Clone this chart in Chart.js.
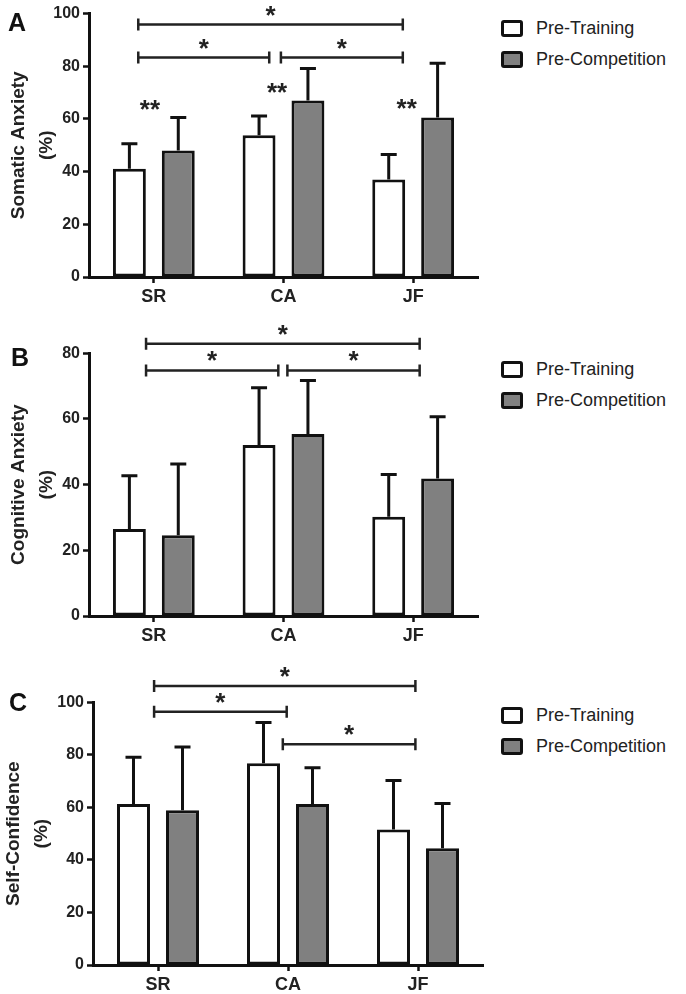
<!DOCTYPE html>
<html>
<head>
<meta charset="utf-8">
<script src="https://cdn.jsdelivr.net/npm/chart.js@4.4.1/dist/chart.umd.min.js"></script>
<style>
  body { margin: 0; background: #fff; }
  #wrap { position: relative; width: 686px; height: 994px; overflow: hidden; font-family: "Liberation Sans", Arial, sans-serif; }
  canvas { position: absolute; left: 0; }
  .chart-legend { position: absolute; left: 501px; }
  .legend-item { display: flex; align-items: center; height: 17px; margin-bottom: 14px; font-size: 18px; color: #222; white-space: nowrap; }
  .legend-color { box-sizing: border-box; width: 22px; height: 17px; border: 3px solid #111; border-radius: 3px; margin-right: 13px; }
</style>
</head>
<body>
<div id="wrap">
  <canvas id="chartA" width="490" height="318" style="top:0px"></canvas>
  <canvas id="chartB" width="490" height="332" style="top:318px"></canvas>
  <canvas id="chartC" width="490" height="354" style="top:640px"></canvas>
  <div class="chart-legend" style="top:20px"></div>
  <div class="chart-legend" style="top:361px"></div>
  <div class="chart-legend" style="top:707px"></div>
</div>
<script>
const categories = ["SR", "CA", "JF"];
const seriesNames = ["Pre-Training", "Pre-Competition"];

// means and SD (upper error bar only)
const somaticPre = [41.1, 53.8, 37.0];
const somaticPreSd = [9.5, 7.3, 9.5];
const somaticComp = [48.0, 67.0, 60.5];
const somaticCompSd = [12.5, 12.1, 20.6];

const cognitivePre = [26.5, 52.1, 30.2];
const cognitivePreSd = [16.2, 17.4, 12.9];
const cognitiveComp = [24.6, 55.4, 41.9];
const cognitiveCompSd = [21.7, 16.3, 18.8];

const confidencePre = [61.3, 76.8, 51.6];
const confidencePreSd = [17.8, 15.5, 18.6];
const confidenceComp = [58.9, 61.3, 44.4];
const confidenceCompSd = [24.1, 13.8, 17.1];

// significance brackets: [from category, to category, value, label]
const bracketsA = [[-0.12, 1.92, 95.8, "*"], [-0.12, 0.89, 83.3, "*"], [0.98, 1.92, 83.3, "*"]];
const bracketsB = [[-0.06, 2.05, 82.9, "*"], [-0.06, 0.96, 74.8, "*"], [1.03, 2.05, 74.8, "*"]];
const bracketsC = [[-0.03, 1.98, 106.2, "*"], [-0.03, 0.99, 96.4, "*"], [0.96, 1.98, 84.0, "*"]];
// single markers: [category, value, label]
const markersA = [[-0.03, 65.7, "**"], [0.95, 72.0, "**"], [1.95, 65.9, "**"]];

const yTitles = [["Somatic Anxiety", "(%)"], ["Cognitive Anxiety", "(%)"], ["Self-Confidence", "(%)"]];
const yMax = [100, 80, 100];
const panelLetters = ["A", "B", "C"];

const FONT = "'Liberation Sans', Arial, sans-serif";
const INK = "#111";

const sigPlugin = {
  id: "sig",
  afterDatasetsDraw(chart, args, opts) {
    const ctx = chart.ctx;
    const x = chart.scales.x, y = chart.scales.y;
    ctx.save();
    // error bars
    chart.data.datasets.forEach((ds, di) => {
      const meta = chart.getDatasetMeta(di);
      meta.data.forEach((bar, i) => {
        const top = y.getPixelForValue(ds.data[i]);
        const errTop = y.getPixelForValue(ds.data[i] + ds.sd[i]);
        ctx.strokeStyle = INK;
        ctx.lineWidth = 3;
        ctx.beginPath();
        ctx.moveTo(bar.x, top);
        ctx.lineTo(bar.x, errTop);
        ctx.moveTo(bar.x - 8, errTop);
        ctx.lineTo(bar.x + 8, errTop);
        ctx.stroke();
      });
    });
    // brackets
    ctx.fillStyle = "#222";
    ctx.textAlign = "center";
    ctx.textBaseline = "alphabetic";
    ctx.font = "bold 26px " + FONT;
    (opts.brackets || []).forEach(([a, b, v, label]) => {
      const x1 = x.getPixelForValue(a), x2 = x.getPixelForValue(b);
      const yy = y.getPixelForValue(v);
      ctx.strokeStyle = "#222";
      ctx.lineWidth = 2.5;
      ctx.beginPath();
      ctx.moveTo(x1, yy); ctx.lineTo(x2, yy);
      ctx.moveTo(x1, yy - 6); ctx.lineTo(x1, yy + 6);
      ctx.moveTo(x2, yy - 6); ctx.lineTo(x2, yy + 6);
      ctx.stroke();
      ctx.fillText(label, (x1 + x2) / 2, yy - 1);
    });
    (opts.markers || []).forEach(([c, v, label]) => {
      ctx.fillText(label, x.getPixelForValue(c), y.getPixelForValue(v) + 14);
    });
    // panel letter
    ctx.font = "bold 25px " + FONT;
    ctx.fillStyle = INK;
    ctx.textAlign = "center";
    ctx.textBaseline = "middle";
    ctx.fillText(opts.letter, opts.letterX, opts.letterY);
    ctx.restore();
  }
};

function makePanel(id, idx, pre, preSd, comp, compSd, geom, brackets, markers) {
  const canvas = document.getElementById(id);
  return new Chart(canvas.getContext("2d"), {
    type: "bar",
    data: {
      labels: categories,
      datasets: [
        { label: seriesNames[0], data: pre, sd: preSd, backgroundColor: "#ffffff" },
        { label: seriesNames[1], data: comp, sd: compSd, backgroundColor: "#808080" }
      ]
    },
    options: {
      responsive: false,
      animation: false,
      layout: { padding: { top: geom.top, right: canvas.width - geom.right, left: 0, bottom: 0 } },
      datasets: {
        bar: {
          borderColor: INK,
          borderWidth: 3,
          borderSkipped: false,
          categoryPercentage: 0.754,
          barPercentage: 0.673
        }
      },
      plugins: {
        legend: { display: false },
        tooltip: { enabled: false },
        sig: { brackets: brackets, markers: markers, letter: panelLetters[idx], letterX: geom.lx, letterY: geom.ly }
      },
      scales: {
        x: {
          afterFit: (s) => { s.height = canvas.height - geom.bottom; },
          border: { display: true, color: INK, width: 3 },
          grid: { display: true, offset: false, drawOnChartArea: false, tickLength: 6, tickWidth: 2.5, tickColor: INK },
          ticks: { color: "#222", padding: 3, font: { family: FONT, size: 18, weight: "bold" } }
        },
        y: {
          min: 0,
          max: yMax[idx],
          afterFit: (s) => { s.width = geom.left; },
          border: { display: true, color: INK, width: 3 },
          grid: { display: true, drawOnChartArea: false, tickLength: 6, tickWidth: 2.5, tickColor: INK },
          ticks: { stepSize: 20, color: "#222", padding: 3, font: { family: FONT, size: 16, weight: "bold" } },
          title: {
            display: true,
            text: yTitles[idx],
            color: "#222",
            padding: { top: geom.tp, bottom: 0 },
            font: { family: FONT, size: 19, weight: "bold", lineHeight: 1.45 }
          }
        }
      }
    },
    plugins: [sigPlugin]
  });
}

const charts = [
  makePanel("chartA", 0, somaticPre, somaticPreSd, somaticComp, somaticCompSd,
    { left: 89, right: 478, top: 13.5, bottom: 277, tp: 5, lx: 17, ly: 24 }, bracketsA, markersA),
  makePanel("chartB", 1, cognitivePre, cognitivePreSd, cognitiveComp, cognitiveCompSd,
    { left: 89, right: 478, top: 35.3, bottom: 298, tp: 5, lx: 20, ly: 41 }, bracketsB, []),
  makePanel("chartC", 2, confidencePre, confidencePreSd, confidenceComp, confidenceCompSd,
    { left: 93, right: 483, top: 62.3, bottom: 325, tp: 0, lx: 18, ly: 64 }, bracketsC, [])
];

// custom legends, one per panel
document.querySelectorAll(".chart-legend").forEach((legendEl, p) => {
  legendEl.innerHTML = "";
  const chart = charts[p];
  chart.data.datasets.forEach((ds) => {
    const item = document.createElement("div");
    item.className = "legend-item";
    item.innerHTML = `<span class="legend-color" style="background:${ds.backgroundColor}"></span><span class="legend-label">${ds.label}</span>`;
    legendEl.appendChild(item);
  });
});
</script>
</body>
</html>
